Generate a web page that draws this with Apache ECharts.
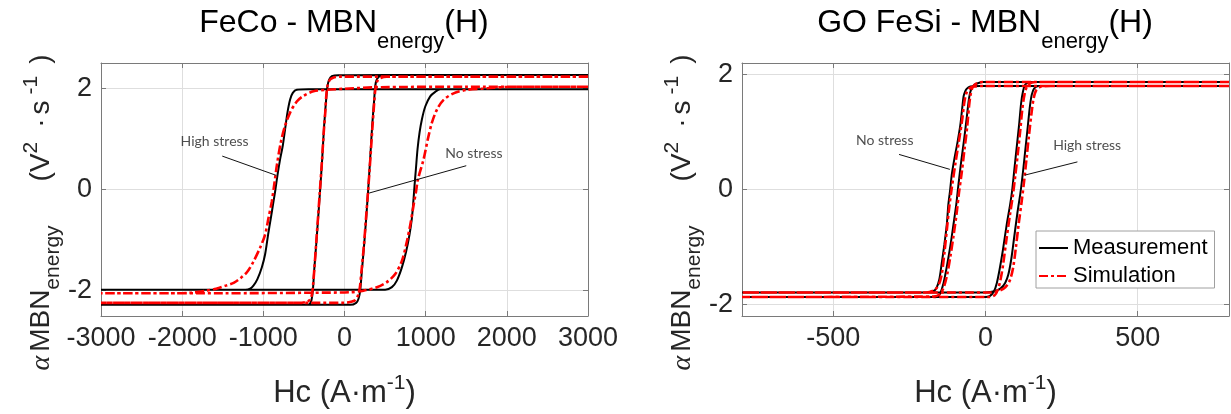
<!DOCTYPE html>
<html><head><meta charset="utf-8">
<script src="https://cdn.jsdelivr.net/npm/echarts@6/dist/echarts.min.js"></script>
<style>html,body{margin:0;padding:0;background:#fff}#c{width:1231px;height:414px}</style>
</head><body><div id="c"></div>
<script>
// ---------- tick values ----------
const fecoXTicks = [-3000, -2000, -1000, 0, 1000, 2000, 3000];
const fecoYTicks = [-2, 0, 2];
const fesiXTicks = [-500, 0, 500];
const fesiYTicks = [-2, 0, 2];

// ---------- FeCo loops: [H, alpha*MBN_energy]  (descending branch then ascending branch) ----------
const fecoNoStressMeas = [
  [3000,2.265],[522,2.265],[-74,2.26],[-156,2.24],[-189,2.17],[-210,2.04],[-226,1.78],[-251,1.26],[-275,0.60],[-300,0.00],
  [-325,-0.57],[-349,-1.09],[-374,-1.61],[-390,-2.00],[-407,-2.19],[-432,-2.27],[-470,-2.28],[-3000,-2.28],
  [70,-2.28],[144,-2.24],[173,-2.16],[193,-2.00],[214,-1.61],[242,-1.09],[267,-0.57],[292,0.00],[316,0.60],[341,1.26],
  [366,1.78],[378,2.04],[399,2.18],[448,2.25],[522,2.265],[3000,2.265]
];
const fecoNoStressSim = [
  [3000,2.23],[-60,2.23],[-140,2.21],[-180,2.17],[-205,2.08],[-222,1.90],[-238,1.50],[-255,1.15],[-278,0.55],[-302,0.00],
  [-327,-0.57],[-350,-1.09],[-372,-1.58],[-388,-1.90],[-402,-2.08],[-425,-2.18],[-470,-2.22],[-560,-2.24],[-3000,-2.24],
  [0,-2.24],[80,-2.22],[130,-2.19],[165,-2.10],[188,-1.95],[210,-1.60],[240,-1.09],[265,-0.57],[292,0.00],[318,0.60],
  [343,1.20],[365,1.70],[380,1.98],[400,2.13],[440,2.20],[520,2.23],[3000,2.23]
];
const fecoHighStressMeas = [
  [3000,1.98],[-444,1.98],[-588,1.97],[-637,1.91],[-670,1.78],[-703,1.52],[-732,1.19],[-760,0.87],[-793,0.60],[-826,0.28],
  [-851,0.00],[-875,-0.24],[-908,-0.57],[-941,-0.89],[-978,-1.28],[-1019,-1.54],[-1073,-1.77],[-1122,-1.90],[-1163,-1.96],
  [-1220,-1.98],[-3000,-1.98],
  [501,-1.98],[584,-1.93],[645,-1.80],[707,-1.54],[760,-1.22],[801,-0.89],[830,-0.57],[851,-0.18],[863,0.08],[880,0.41],
  [900,0.80],[925,1.13],[954,1.39],[995,1.64],[1056,1.84],[1118,1.93],[1180,1.98],[3000,1.98]
];
const fecoHighStressSim = [
  [3000,2.03],[1500,2.03],[400,2.02],[0,1.99],[-218,1.97],[-382,1.94],[-506,1.85],[-588,1.74],[-670,1.52],[-732,1.26],
  [-785,0.93],[-834,0.47],[-867,0.08],[-896,-0.24],[-937,-0.57],[-978,-0.89],[-1040,-1.15],[-1130,-1.45],[-1200,-1.63],
  [-1272,-1.74],[-1360,-1.84],[-1461,-1.90],[-1580,-1.96],[-1700,-2.00],[-1885,-2.04],[-2200,-2.05],[-3000,-2.05],
  [-1500,-2.05],[-400,-2.04],[70,-2.03],[234,-2.00],[399,-1.93],[522,-1.83],[625,-1.67],[707,-1.41],[760,-1.09],[810,-0.70],
  [851,-0.31],[880,-0.05],[905,0.20],[975,0.60],[1026,0.99],[1077,1.32],[1139,1.58],[1221,1.77],[1344,1.90],[1509,1.97],
  [1756,2.00],[2044,2.03],[3000,2.03]
];

// ---------- GO FeSi loops ----------
const fesiOuterMeas = [
  [800,1.80],[-20,1.80],[-50,1.79],[-62,1.75],[-68,1.69],[-72,1.62],[-77,1.39],[-83,1.11],[-92,0.82],[-102,0.54],[-111,0.25],
  [-116,0.00],[-122,-0.26],[-127,-0.60],[-135,-0.95],[-144,-1.29],[-152,-1.57],[-162,-1.72],[-173,-1.77],[-193,-1.79],[-800,-1.79],
  [0,-1.79],[30,-1.77],[50,-1.72],[65,-1.62],[75,-1.48],[85,-1.20],[95,-0.80],[105,-0.40],[115,-0.05],[123,0.30],[131,0.70],
  [139,1.10],[146,1.45],[152,1.65],[160,1.76],[175,1.80],[800,1.80]
];
const fesiOuterSim = [
  [800,1.80],[-10,1.80],[-38,1.79],[-55,1.75],[-64,1.66],[-70,1.50],[-77,1.20],[-87,0.85],[-99,0.45],[-111,0.02],[-119,-0.30],
  [-127,-0.70],[-135,-1.10],[-143,-1.45],[-153,-1.65],[-168,-1.75],[-195,-1.79],[-800,-1.79],
  [15,-1.79],[45,-1.76],[65,-1.70],[80,-1.58],[91,-1.35],[100,-1.00],[109,-0.60],[119,-0.20],[127,0.15],[135,0.55],[143,0.95],
  [151,1.32],[158,1.58],[167,1.73],[183,1.79],[215,1.80],[800,1.80]
];
const fesiInnerMeas = [
  [800,1.87],[-10,1.87],[-18,1.86],[-37,1.82],[-48,1.73],[-54,1.59],[-61,1.28],[-70,0.88],[-80,0.48],[-89,0.08],[-96,-0.26],
  [-105,-0.60],[-116,-1.00],[-127,-1.34],[-138,-1.63],[-149,-1.81],[-158,-1.86],[-175,-1.87],[-800,-1.87],
  [0,-1.87],[15,-1.85],[28,-1.77],[37,-1.63],[46,-1.40],[57,-1.06],[70,-0.60],[81,-0.26],[88,0.00],[95,0.36],[103,0.76],
  [111,1.16],[117,1.50],[123,1.70],[130,1.82],[141,1.86],[160,1.87],[800,1.87]
];
const fesiInnerSim = [
  [800,1.87],[-10,1.87],[-28,1.85],[-42,1.78],[-49,1.65],[-54,1.45],[-60,1.10],[-69,0.70],[-78,0.30],[-87,-0.05],[-95,-0.42],
  [-105,-0.80],[-115,-1.15],[-126,-1.48],[-137,-1.70],[-150,-1.82],[-170,-1.86],[-800,-1.87],
  [12,-1.87],[30,-1.84],[40,-1.75],[49,-1.58],[58,-1.30],[68,-0.90],[80,-0.45],[90,-0.10],[98,0.25],[106,0.62],[114,1.02],
  [121,1.40],[128,1.65],[137,1.80],[152,1.86],[175,1.87],[800,1.87]
];

// ---------- annotations (data coordinates) ----------
const fecoNotes = [
  { text: 'High stress', at: [-1600, 0.95], leader: [[-1506, 0.66], [-842, 0.28]] },
  { text: 'No stress',   at: [1594, 0.71],  leader: [[1500, 0.47], [304, -0.07]] }
];
const fesiNotes = [
  { text: 'No stress',   at: [-331, 0.86], leader: [[-284, 0.61], [-117, 0.35]] },
  { text: 'High stress', at: [334, 0.76],  leader: [[302, 0.48], [129, 0.25]] }
];

// ---------- styles ----------
const FONT = '"Liberation Sans", Arial, sans-serif';
const AX = '#7a7a7a', GRIDC = '#dedede', TXT = '#262626';
const measLine = { color: '#000000', width: 2, type: 'solid' };
const simLine = { color: '#ff0000', width: 2.6, type: [9, 3, 3, 3] };

const titleRich = {
  m: { fontSize: 32, fontFamily: FONT, fontWeight: 'normal', color: '#000' },
  s: { fontSize: 22, fontFamily: FONT, fontWeight: 'normal', color: '#000', padding: [37, 0, 0, 0] }
};
const xNameRich = {
  m: { fontSize: 31, fontFamily: FONT, color: TXT },
  p: { fontSize: 21, fontFamily: FONT, color: TXT, padding: [0, 0, 20, 0] }
};
const yNameRich = {
  a: { fontSize: 28, fontFamily: '"Liberation Serif", serif', fontStyle: 'italic', color: TXT, padding: [0, 4, 0, 0] },
  m: { fontSize: 28, fontFamily: FONT, color: TXT },
  s: { fontSize: 21, fontFamily: FONT, color: TXT, padding: [24, 0, 0, 0] },
  q: { fontSize: 28, fontFamily: FONT, color: TXT, padding: [0, 0, 0, 44] },
  p: { fontSize: 21, fontFamily: FONT, color: TXT, padding: [0, 4, 20, 0] },
  d: { fontSize: 28, fontFamily: FONT, color: TXT, padding: [0, 4, 0, 10] },
  r: { fontSize: 21, fontFamily: FONT, color: TXT, padding: [0, 4, 20, 6] },
  e: { fontSize: 28, fontFamily: FONT, color: TXT, padding: [0, 46, 0, 8] }
};
const xName = '{m|Hc (A·m}{p|-1}{m|)}';
const yName = '{a|α}{m|MBN}{s|energy}{q|(V}{p|2}{d|·}{m|s}{r|-1}{e|)}';

function xAxes(gi, min, max, ticks) {
  const base = { type: 'value', gridIndex: gi, min: min, max: max };
  return [
    Object.assign({}, base, {
      position: 'bottom',
      axisLine: { show: true, onZero: false, lineStyle: { color: AX, width: 1 } },
      axisTick: { show: true, inside: true, length: 5, customValues: ticks, lineStyle: { color: AX } },
      axisLabel: { customValues: ticks, margin: 9, fontSize: 27, color: TXT, fontFamily: FONT, formatter: v => String(v) },
      splitLine: { show: true, lineStyle: { color: GRIDC, width: 1 } },
      name: xName, nameLocation: 'middle', nameGap: 57, nameTextStyle: { rich: xNameRich }
    }),
    Object.assign({}, base, {
      position: 'top',
      axisLine: { show: true, onZero: false, lineStyle: { color: AX, width: 1 } },
      axisTick: { show: true, inside: true, length: 5, customValues: ticks, lineStyle: { color: AX } },
      axisLabel: { show: false, customValues: ticks },
      splitLine: { show: false }
    })
  ];
}
function yAxes(gi, min, max, ticks) {
  const base = { type: 'value', gridIndex: gi, min: min, max: max };
  return [
    Object.assign({}, base, {
      position: 'left',
      axisLine: { show: true, onZero: false, lineStyle: { color: AX, width: 1 } },
      axisTick: { show: true, inside: true, length: 5, customValues: ticks, lineStyle: { color: AX } },
      axisLabel: { customValues: ticks, margin: 9, fontSize: 27, color: TXT, fontFamily: FONT, formatter: v => String(v) },
      splitLine: { show: true, lineStyle: { color: GRIDC, width: 1 } },
      name: yName, nameLocation: 'middle', nameGap: 29, nameTextStyle: { rich: yNameRich }
    }),
    Object.assign({}, base, {
      position: 'right',
      axisLine: { show: true, onZero: false, lineStyle: { color: AX, width: 1 } },
      axisTick: { show: true, inside: true, length: 5, customValues: ticks, lineStyle: { color: AX } },
      axisLabel: { show: false, customValues: ticks },
      splitLine: { show: false }
    })
  ];
}

function loop(name, data, xi, yi, style, z) {
  return { type: 'line', name: name, xAxisIndex: xi, yAxisIndex: yi, data: data,
    showSymbol: false, symbol: 'none', smooth: 0.3, lineStyle: style, itemStyle: { color: style.color },
    z: z, silent: true, emphasis: { disabled: true } };
}
function notes(list, xi, yi) {
  const out = [];
  list.forEach(n => {
    out.push({ type: 'line', name: 'leader', xAxisIndex: xi, yAxisIndex: yi, data: n.leader,
      showSymbol: false, symbol: 'none', lineStyle: { color: '#111', width: 1 }, silent: true, z: 4 });
    out.push({ type: 'scatter', name: 'note', xAxisIndex: xi, yAxisIndex: yi, data: [n.at],
      symbolSize: 1, itemStyle: { color: 'rgba(0,0,0,0)' }, silent: true, z: 5,
      label: { show: true, position: 'inside', formatter: n.text, fontSize: 14, fontFamily: 'Lato', color: '#222' } });
  });
  return out;
}

const xa = xAxes(0, -3000, 3000, fecoXTicks).concat(xAxes(1, -800, 800, fesiXTicks));
const ya = yAxes(0, -2.5, 2.5, fecoYTicks).concat(yAxes(1, -2.2, 2.2, fesiYTicks));

const series = [
  loop('Measurement', fecoNoStressMeas, 0, 0, measLine, 2),
  loop('Measurement', fecoHighStressMeas, 0, 0, measLine, 2),
  loop('Measurement', fesiOuterMeas, 2, 2, measLine, 2),
  loop('Measurement', fesiInnerMeas, 2, 2, measLine, 2),
  loop('Simulation', fecoNoStressSim, 0, 0, simLine, 3),
  loop('Simulation', fecoHighStressSim, 0, 0, simLine, 3),
  loop('Simulation', fesiOuterSim, 2, 2, simLine, 3),
  loop('Simulation', fesiInnerSim, 2, 2, simLine, 3)
].concat(notes(fecoNotes, 0, 0), notes(fesiNotes, 2, 2));

const chart = echarts.init(document.getElementById('c'), null, { renderer: 'canvas', width: 1231, height: 414 });
chart.setOption({
  animation: false,
  backgroundColor: '#ffffff',
  title: [
    { text: '{m|FeCo - MBN}{s|energy}{m|(H)}', left: 344, top: -6, textAlign: 'center', padding: 0,
      textStyle: { fontWeight: 'normal', rich: titleRich } },
    { text: '{m|GO FeSi - MBN}{s|energy}{m|(H)}', left: 985, top: -6, textAlign: 'center', padding: 0,
      textStyle: { fontWeight: 'normal', rich: titleRich } }
  ],
  legend: {
    data: ['Measurement', 'Simulation'], orient: 'vertical', left: 1036, top: 231,
    itemWidth: 29, itemHeight: 14, itemGap: 6, padding: [6, 7, 1, 2],
    backgroundColor: '#fff', borderColor: '#a0a0a0', borderWidth: 1, borderRadius: 0,
    itemStyle: { color: 'rgba(0,0,0,0)', borderColor: 'rgba(0,0,0,0)', borderWidth: 0 },
    textStyle: { fontSize: 22, fontFamily: FONT, color: '#000' }, selectedMode: false
  },
  grid: [
    { left: 101, top: 63, width: 487, height: 257 },
    { left: 742, top: 63, width: 487, height: 257 }
  ],
  xAxis: xa,
  yAxis: ya,
  series: series
});
</script></body></html>
